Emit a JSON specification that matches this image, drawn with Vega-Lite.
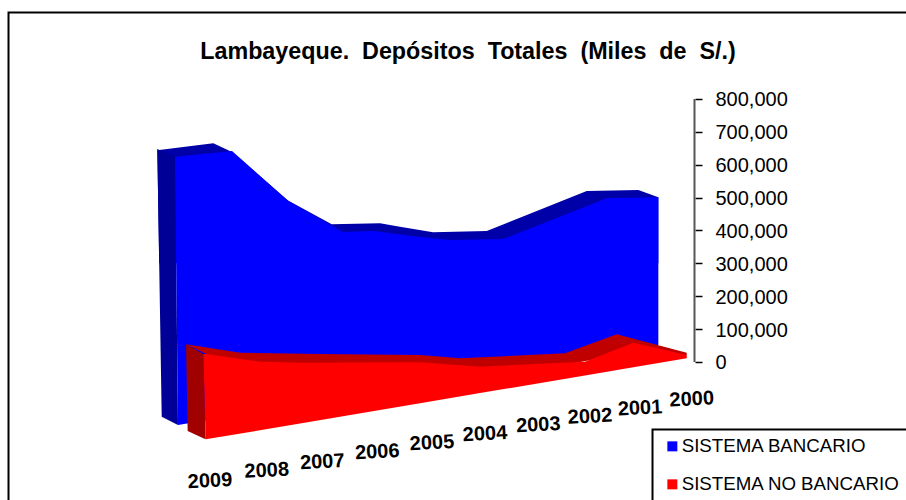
{"$schema":"https://vega.github.io/schema/vega-lite/v6.json","width":906,"height":500,"padding":0,"autosize":{"type":"none"},"background":"white","config":{"view":{"stroke":null},"font":"Liberation Sans"},
"datasets":{
"marco":[{"pos":2012.761,"pos2":1995.74,"v":1063000,"v2":-450400}],
"caja":[{"pos":2000.734,"pos2":1995.74,"v":-205500,"v2":-450400}],
"eje":[{"pos":1999.95,"v":0,"v2":800000}],
"titulo":[{"pos":2004.18,"v":942800,"t":"Lambayeque.\u00a0 Depósitos\u00a0 Totales\u00a0 (Miles\u00a0 de\u00a0 S/.)"}],
"anios":[{"pos":2008.998,"v":-362200,"t":"2009"},{"pos":2007.939,"v":-330900,"t":"2008"},{"pos":2006.901,"v":-304400,"t":"2007"},{"pos":2005.874,"v":-274000,"t":"2006"},{"pos":2004.852,"v":-246600,"t":"2005"},{"pos":2003.862,"v":-219200,"t":"2004"},{"pos":2002.867,"v":-191850,"t":"2003"},{"pos":2001.901,"v":-166600,"t":"2002"},{"pos":2000.967,"v":-141000,"t":"2001"},{"pos":2000.002,"v":-113700,"t":"2000"}],
"caras":[
{"s":"Bancario fondo","pos":2009.982,"v":647000,"v2":647000},{"s":"Bancario fondo","pos":2009.947,"v":644700,"v2":300000},{"s":"Bancario fondo","pos":2008.936,"v":665000,"v2":300000},{"s":"Bancario fondo","pos":2008.587,"v":638600,"v2":300000},{"s":"Bancario fondo","pos":2007.541,"v":491000,"v2":300000},{"s":"Bancario fondo","pos":2006.725,"v":418700,"v2":300000},{"s":"Bancario fondo","pos":2005.823,"v":421700,"v2":300000},{"s":"Bancario fondo","pos":2005.45,"v":411400,"v2":300000},{"s":"Bancario fondo","pos":2004.833,"v":394300,"v2":300000},{"s":"Bancario fondo","pos":2003.83,"v":398300,"v2":300000},{"s":"Bancario fondo","pos":2001.963,"v":520000,"v2":300000},{"s":"Bancario fondo","pos":2000.999,"v":523000,"v2":300000},{"s":"Bancario fondo","pos":2000.625,"v":500800,"v2":300000},
{"s":"Bancario lado","pos":2009.982,"v":647000,"v2":647000},{"s":"Bancario lado","pos":2009.9,"v":641400,"v2":-166600},{"s":"Bancario lado","pos":2009.652,"v":624300,"v2":-187300},{"s":"Bancario lado","pos":2009.596,"v":-191850,"v2":-191850},
{"s":"SISTEMA BANCARIO","pos":2009.652,"v":624300,"v2":624300},{"s":"SISTEMA BANCARIO","pos":2009.596,"v":624900,"v2":-191850},{"s":"SISTEMA BANCARIO","pos":2008.587,"v":641700,"v2":-164500},{"s":"SISTEMA BANCARIO","pos":2007.541,"v":490500,"v2":-136200},{"s":"SISTEMA BANCARIO","pos":2006.514,"v":395300,"v2":-108200},{"s":"SISTEMA BANCARIO","pos":2005.954,"v":398300,"v2":-92985},{"s":"SISTEMA BANCARIO","pos":2005.076,"v":380000,"v2":-69300},{"s":"SISTEMA BANCARIO","pos":2004.516,"v":370900,"v2":-54000},{"s":"SISTEMA BANCARIO","pos":2003.52,"v":373900,"v2":-27000},{"s":"SISTEMA BANCARIO","pos":2001.59,"v":497800,"v2":25300},{"s":"SISTEMA BANCARIO","pos":2000.625,"v":500800,"v2":51500},
{"s":"No bancario fondo","pos":2009.446,"v":53600,"v2":53600},{"s":"No bancario fondo","pos":2008.438,"v":28100,"v2":-24540},{"s":"No bancario fondo","pos":2006.944,"v":24100,"v2":-24540},{"s":"No bancario fondo","pos":2005.076,"v":21100,"v2":-24540},{"s":"No bancario fondo","pos":2004.329,"v":11050,"v2":-24540},{"s":"No bancario fondo","pos":2002.368,"v":26300,"v2":-9330},{"s":"No bancario fondo","pos":2001.403,"v":84100,"v2":21100},{"s":"No bancario fondo","pos":2000.095,"v":28100,"v2":21100},
{"s":"No bancario lado","pos":2009.446,"v":53600,"v2":53600},{"s":"No bancario lado","pos":2009.415,"v":50600,"v2":-210100},{"s":"No bancario lado","pos":2009.123,"v":24100,"v2":-232000},{"s":"No bancario lado","pos":2009.078,"v":-235350,"v2":-235350},
{"s":"SISTEMA NO BANCARIO","pos":2009.123,"v":24100,"v2":24100},{"s":"SISTEMA NO BANCARIO","pos":2009.078,"v":24100,"v2":-235350},{"s":"SISTEMA NO BANCARIO","pos":2008.064,"v":700,"v2":-207700},{"s":"SISTEMA NO BANCARIO","pos":2007.317,"v":-2300,"v2":-187000},{"s":"SISTEMA NO BANCARIO","pos":2005.076,"v":-1100,"v2":-125500},{"s":"SISTEMA NO BANCARIO","pos":2003.956,"v":-14500,"v2":-94800},{"s":"SISTEMA NO BANCARIO","pos":2001.995,"v":700,"v2":-41000},{"s":"SISTEMA NO BANCARIO","pos":2001.092,"v":58500,"v2":-16300},{"s":"SISTEMA NO BANCARIO","pos":2000.095,"v":21100,"v2":11050}
]},
"encoding":{
"x":{"field":"pos","type":"quantitative","scale":{"domain":[2012.92,1996.0],"nice":false,"zero":false},"axis":null},
"y":{"field":"v","type":"quantitative","scale":{"domain":[-420000,1101000],"nice":false,"zero":false},"axis":{"orient":"right","offset":-211,"title":null,"grid":false,"domain":false,"values":[0,100000,200000,300000,400000,500000,600000,700000,800000],"format":",.0f","labelFont":"Liberation Sans","labelFontSize":20,"labelColor":"black","labelPadding":13,"labelOffset":1,"tickColor":"black","tickSize":7,"tickWidth":1.5,"labelOverlap":false,"labelBound":false,"labelFlush":false}}
},
"layer":[
{"data":{"name":"marco"},"mark":{"type":"rect","filled":false,"stroke":"black","strokeWidth":2},"encoding":{"x2":{"field":"pos2"},"y2":{"field":"v2"}}},
{"data":{"name":"caras"},"mark":{"type":"area","interpolate":"linear","clip":false,"opacity":1},"encoding":{"y2":{"field":"v2"},"color":{"field":"s","type":"nominal","scale":{"domain":["Bancario fondo","Bancario lado","SISTEMA BANCARIO","No bancario fondo","No bancario lado","SISTEMA NO BANCARIO"],"range":["#0000A8","#000096","#0000FF","#C00000","#A00000","#FF0000"]},"legend":{"values":["SISTEMA BANCARIO","SISTEMA NO BANCARIO"],"orient":"none","legendX":663,"legendY":437,"title":null,"symbolType":"square","symbolSize":100,"symbolStrokeWidth":0,"labelFont":"Liberation Sans","labelFontSize":18.7,"labelColor":"black","labelOffset":0,"labelLimit":300,"rowPadding":18,"zindex":1}}}},
{"data":{"name":"eje"},"mark":{"type":"rule","stroke":"#555555","strokeWidth":2},"encoding":{"y2":{"field":"v2"}}},
{"data":{"name":"titulo"},"mark":{"type":"text","font":"Liberation Sans","fontWeight":"bold","fontSize":23.3,"fill":"black","align":"center","baseline":"middle"},"encoding":{"text":{"field":"t"}}},
{"data":{"name":"anios"},"mark":{"type":"text","font":"Liberation Sans","fontWeight":"bold","fontSize":20,"fill":"black","align":"center","baseline":"middle","angle":357},"encoding":{"text":{"field":"t"}}},
{"data":{"name":"caja"},"mark":{"type":"rect","fill":"white","stroke":"black","strokeWidth":2},"encoding":{"x2":{"field":"pos2"},"y2":{"field":"v2"}}}
]}
